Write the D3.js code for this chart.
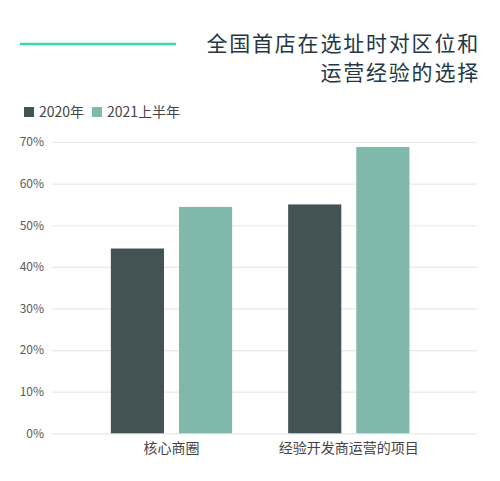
<!DOCTYPE html>
<meta charset="utf-8">
<title>全国首店选址</title>
<style>
  body { margin: 0; background: #fff; }
  text { font-family: "Noto Sans CJK SC", "Noto Sans", sans-serif; }
</style>
<div id="viz"></div>
<script src="https://cdnjs.cloudflare.com/ajax/libs/d3/7.8.5/d3.min.js"></script>
<script>

var categories = ["核心商圈", "经验开发商运营的项目"];
var series = ["2020年", "2021上半年"];
var values2020 = [0.444, 0.55];
var values2021H1 = [0.544, 0.688];
var yTicks = [0, 0.1, 0.2, 0.3, 0.4, 0.5, 0.6, 0.7];
var titleLines = ["全国首店在选址时对区位和", "运营经验的选择"];

var width = 500;
var height = 481;
var colors = ["#435254", "#80b9ab"];

var svg = d3.select("#viz")
  .append("svg")
  .attr("width", width)
  .attr("height", height);

// title + accent line
svg.append("line")
  .attr("x1", 20).attr("x2", 176)
  .attr("y1", 44).attr("y2", 44)
  .attr("stroke", "#2fe29b")
  .attr("stroke-width", 2.5);

svg.selectAll(".title")
  .data(titleLines)
  .enter().append("text")
  .attr("class", "title")
  .attr("x", 480)
  .attr("y", function(d, i) { return 51 + i * 29; })
  .attr("text-anchor", "end")
  .attr("font-size", 21)
  .attr("letter-spacing", 1.8)
  .attr("fill", "#243743")
  .text(function(d) { return d; });

// legend
var legendX = [24, 92];
var legend = svg.selectAll(".legend")
  .data(series)
  .enter().append("g")
  .attr("class", "legend")
  .attr("transform", function(d, i) { return "translate(" + legendX[i] + ",107)"; });
legend.append("rect")
  .attr("width", 10).attr("height", 10)
  .attr("fill", function(d, i) { return colors[i]; });
legend.append("text")
  .attr("x", 15).attr("y", 10)
  .attr("font-size", 14)
  .attr("fill", "#444")
  .text(function(d) { return d; });

// scales
var y = d3.scaleLinear().domain([0, 0.7]).range([433.3, 142]);
var x0 = d3.scaleBand().domain(categories).range([52, 468.3])
  .paddingInner(0).paddingOuter(0.174);
var bw = x0.bandwidth();
var x1 = d3.scaleBand().domain(series).range([28, bw - 28]).paddingInner(0.22);

// grid + y labels
var yAxis = d3.axisLeft(y)
  .tickValues(yTicks)
  .tickSize(-(477 - 52))
  .tickPadding(8)
  .tickFormat(d3.format(".0%"));
var gy = svg.append("g")
  .attr("transform", "translate(52,0)")
  .call(yAxis);
gy.select(".domain").remove();
gy.selectAll(".tick line").attr("stroke", "#e8e8e8").attr("stroke-width", 1.2);
gy.selectAll(".tick text")
  .attr("font-size", 12)
  .attr("fill", "#5a5a5a")
  .attr("font-family", "'Noto Sans', sans-serif");

// bars
var rows = categories.map(function(c, i) {
  return { cat: c, vals: [values2020[i], values2021H1[i]] };
});
var groups = svg.selectAll(".grp")
  .data(rows)
  .enter().append("g")
  .attr("class", "grp")
  .attr("transform", function(d) { return "translate(" + x0(d.cat) + ",0)"; });
groups.selectAll("rect")
  .data(function(d) { return d.vals.map(function(v, i) { return { s: series[i], v: v, i: i }; }); })
  .enter().append("rect")
  .attr("x", function(d) { return x1(d.s); })
  .attr("width", x1.bandwidth())
  .attr("y", function(d) { return y(d.v); })
  .attr("height", function(d) { return y(0) - y(d.v); })
  .attr("fill", function(d) { return colors[d.i]; });

// x labels
var xAxis = d3.axisBottom(x0).tickSize(0).tickPadding(10);
var gx = svg.append("g")
  .attr("transform", "translate(0," + y(0) + ")")
  .call(xAxis);
gx.select(".domain").remove();
gx.selectAll(".tick text")
  .attr("font-size", 14)
  .attr("fill", "#444")
  .attr("font-family", "'Noto Sans CJK SC', sans-serif");

</script>
